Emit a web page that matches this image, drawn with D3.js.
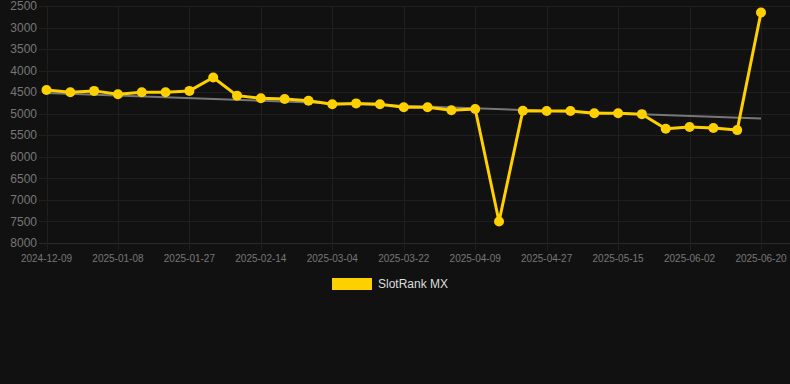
<!DOCTYPE html>
<html>
<head>
<meta charset="utf-8">
<script src="https://cdn.jsdelivr.net/npm/d3@7/dist/d3.min.js"></script>
<style>
  html, body { margin: 0; padding: 0; background: #111111; }
  #chart { width: 790px; height: 384px; }
  text { font-family: "Liberation Sans", Arial, sans-serif; }
</style>
</head>
<body>
<div id="chart"></div>
<script>
// dates of each sample (only every 3rd one is labelled on the axis)
const dates = [
  '2024-12-09', '2024-12-19', '2024-12-29', '2025-01-08', '2025-01-14', '2025-01-21',
  '2025-01-27', '2025-02-02', '2025-02-08', '2025-02-14', '2025-02-20', '2025-02-26',
  '2025-03-04', '2025-03-10', '2025-03-16', '2025-03-22', '2025-03-28', '2025-04-03',
  '2025-04-09', '2025-04-15', '2025-04-21', '2025-04-27', '2025-05-03', '2025-05-09',
  '2025-05-15', '2025-05-21', '2025-05-27', '2025-06-02', '2025-06-08', '2025-06-14',
  '2025-06-20'
]
const rankMX = [
  4450, 4500, 4470, 4550, 4500, 4500, 4470, 4160, 4580, 4640, 4660,
  4700, 4780, 4760, 4780, 4850, 4850, 4920, 4890, 7500, 4930, 4935,
  4935, 4990, 4990, 5010, 5350, 5310, 5330, 5380, 2650
]
const yTicks = [2500, 3000, 3500, 4000, 4500, 5000, 5500, 6000, 6500, 7000, 7500, 8000]
const seriesName = 'SlotRank MX'

const W = 790
const H = 384
const margin = { left: 46.5, right: 29, top: 6, bottom: 141 }

const svg = d3.select('#chart')
  .append('svg')
  .attr('width', W)
  .attr('height', H)

svg.append('rect')
  .attr('width', W)
  .attr('height', H)
  .attr('fill', '#111111')

const x = d3.scalePoint()
  .domain(d3.range(dates.length))
  .range([margin.left, W - margin.right])

const y = d3.scaleLinear()
  .domain([2500, 8000])
  .range([margin.top, H - margin.bottom])

const labelled = d3.range(0, dates.length, 3)

// grid
svg.append('g')
  .selectAll('line')
  .data(yTicks)
  .enter()
  .append('line')
  .attr('x1', 39)
  .attr('x2', W)
  .attr('y1', d => Math.round(y(d)) + 0.5)
  .attr('y2', d => Math.round(y(d)) + 0.5)
  .style('stroke', d => d === 8000 ? '#2a2a2a' : '#1f1f1f')
  .style('stroke-width', 1)

svg.append('g')
  .selectAll('line')
  .data(labelled)
  .enter()
  .append('line')
  .attr('x1', d => Math.round(x(d)) + 0.5)
  .attr('x2', d => Math.round(x(d)) + 0.5)
  .attr('y1', margin.top)
  .attr('y2', H - margin.bottom + 7)
  .style('stroke', '#1f1f1f')
  .style('stroke-width', 1)

// y tick labels
svg.append('g')
  .selectAll('text')
  .data(yTicks)
  .enter()
  .append('text')
  .attr('x', 37)
  .attr('y', d => y(d))
  .attr('dy', '0.35em')
  .attr('text-anchor', 'end')
  .attr('font-size', 12)
  .attr('fill', '#777777')
  .text(d => d)

// x tick labels
svg.append('g')
  .selectAll('text')
  .data(labelled)
  .enter()
  .append('text')
  .attr('x', d => x(d))
  .attr('y', H - margin.bottom + 19)
  .attr('text-anchor', 'middle')
  .attr('font-size', 10)
  .attr('fill', '#777777')
  .text(d => dates[d])

// trend line (least squares over the series)
const n = rankMX.length
const mx = d3.mean(d3.range(n))
const my = d3.mean(rankMX)
const slope = d3.sum(rankMX, (v, i) => (i - mx) * (v - my)) /
  d3.sum(d3.range(n), i => (i - mx) * (i - mx))
const trend = i => my + slope * (i - mx)

svg.append('line')
  .attr('x1', x(0))
  .attr('y1', y(trend(0)))
  .attr('x2', x(n - 1))
  .attr('y2', y(trend(n - 1)))
  .style('stroke', '#777777')
  .style('stroke-width', 2)

// series
const line = d3.line()
  .x((d, i) => x(i))
  .y(d => y(d))

svg.append('path')
  .datum(rankMX)
  .attr('d', line)
  .style('fill', 'none')
  .style('stroke', '#ffd000')
  .style('stroke-width', 3)
  .style('stroke-linejoin', 'round')

svg.append('g')
  .selectAll('circle')
  .data(rankMX)
  .enter()
  .append('circle')
  .attr('cx', (d, i) => x(i))
  .attr('cy', d => y(d))
  .attr('r', 5)
  .attr('fill', '#ffd000')

// legend
const legend = svg.append('g')
  .attr('transform', 'translate(332, 278)')

legend.append('rect')
  .attr('width', 40)
  .attr('height', 12)
  .attr('fill', '#ffd000')

legend.append('text')
  .attr('x', 46)
  .attr('y', 6)
  .attr('dy', '0.35em')
  .attr('font-size', 12)
  .attr('fill', '#dddddd')
  .text(seriesName)
</script>
</body>
</html>
